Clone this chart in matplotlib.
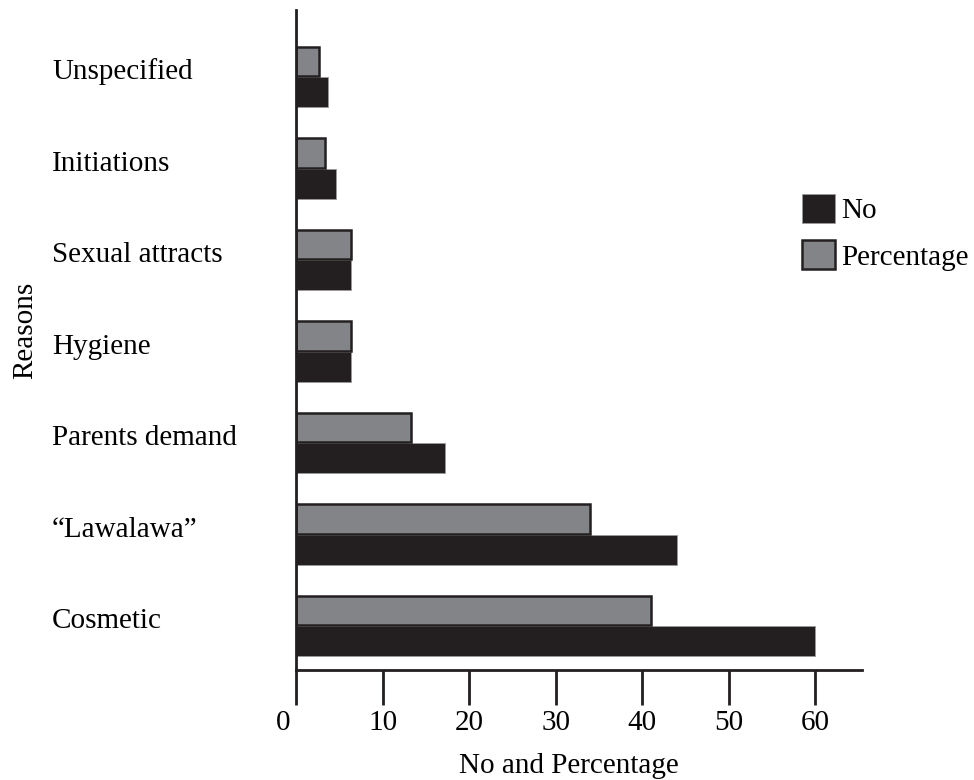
import matplotlib
matplotlib.use("Agg")
import matplotlib.pyplot as plt
import matplotlib.transforms as mtransforms
import numpy as np

categories = ["Cosmetic", "\u201cLawalawa\u201d", "Parents demand", "Hygiene",
              "Sexual attracts", "Initiations", "Unspecified"]
no_values = [60, 44, 17.2, 6.4, 6.4, 4.6, 3.7]
pct_values = [41, 34, 13.3, 6.3, 6.3, 3.4, 2.7]
xticks = [0, 10, 20, 30, 40, 50, 60]

BLACK = "#231f20"
GRAY = "#838487"

plt.rcParams["font.family"] = ["Liberation Serif", "DejaVu Serif"]
plt.rcParams["font.size"] = 21

fig = plt.figure(figsize=(9.74, 7.8), dpi=100)
W, H = 974, 780
ax = fig.add_axes([296 / W, 1 - 670 / H, (862 - 296) / W, (670 - 10) / H])

y = np.arange(len(categories))
h = 0.33
bars_no = ax.barh(y - h / 2, no_values, height=h, color=BLACK,
                  edgecolor="#9a9a9a", linewidth=0.6, label="No", zorder=2)
bars_pct = ax.barh(y + h / 2 + 0.005, pct_values, height=h - 0.01, color=GRAY,
                   edgecolor=BLACK, linewidth=1.8, label="Percentage", zorder=2)

ax.set_xlim(0, 65.4)
ax.set_ylim(-0.48, 6.732)

for s in ["top", "right"]:
    ax.spines[s].set_visible(False)
ax.spines["left"].set_linewidth(2.0)
ax.spines["left"].set_color(BLACK)
ax.spines["bottom"].set_linewidth(2.0)
ax.spines["bottom"].set_color(BLACK)

ax.set_xticks(xticks)
ax.set_xticklabels([str(v) for v in xticks])
ax.tick_params(axis="x", direction="out", length=25, width=2.0, color=BLACK,
               pad=3.5, labelsize=21)
# shift the "0" label slightly left as in the reference
lbl0 = ax.get_xticklabels()[0]
lbl0.set_transform(lbl0.get_transform() +
                   mtransforms.ScaledTranslation(-13 / 100, 0, fig.dpi_scale_trans))

ax.set_yticks(y)
ax.set_yticklabels(categories)
ax.tick_params(axis="y", length=0, pad=(296 - 52) * 0.72, labelsize=21)
for t in ax.get_yticklabels():
    t.set_horizontalalignment("left")
    t.set_verticalalignment("center_baseline")
    t.set_transform(t.get_transform() +
                    mtransforms.ScaledTranslation(0, 8 / 100, fig.dpi_scale_trans))

fig.text(569 / W, 1 - 773 / H, "No and Percentage", ha="center", va="baseline",
         fontsize=21)
fig.text(25 / W, 1 - 330 / H, "Reasons", ha="center", va="center",
         rotation=90, fontsize=21)

leg = ax.legend(handles=[bars_no, bars_pct], labels=["No", "Percentage"],
                loc="upper left", bbox_to_anchor=(802 / W, 1 - 194 / H),
                bbox_transform=fig.transFigure, frameon=False, borderpad=0,
                handlelength=1.14, handleheight=1.14, handletextpad=0.2,
                labelspacing=0.55, borderaxespad=0, fontsize=21)

fig.savefig("out.png", dpi=100, facecolor="white")
